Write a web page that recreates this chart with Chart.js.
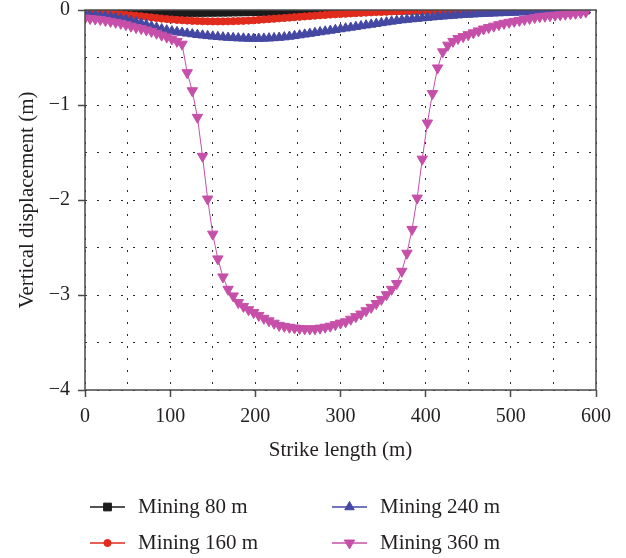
<!DOCTYPE html>
<html>
<head>
<meta charset="utf-8">
<title>Vertical displacement along strike</title>
<script src="https://cdn.jsdelivr.net/npm/chart.js@4.4.1/dist/chart.umd.min.js"></script>
<style>
  html, body { margin: 0; padding: 0; background: #fff; }
  #wrap { width: 626px; height: 558px; }
</style>
</head>
<body>
<div id="wrap"><canvas id="subsidence-chart" width="626" height="558"></canvas></div>
<script>
// Strike positions (m), shared by all four mining stages
const strikeX = [
  0, 6, 12, 18, 24, 30, 36, 42, 48, 54,
  60, 66, 72, 78, 84, 90, 96, 102, 108, 114,
  120, 126, 132, 138, 144, 150, 156, 162, 168, 174,
  180, 186, 192, 198, 204, 210, 216, 222, 228, 234,
  240, 246, 252, 258, 264, 270, 276, 282, 288, 294,
  300, 306, 312, 318, 324, 330, 336, 342, 348, 354,
  360, 366, 372, 378, 384, 390, 396, 402, 408, 414,
  420, 426, 432, 438, 444, 450, 456, 462, 468, 474,
  480, 486, 492, 498, 504, 510, 516, 522, 528, 534,
  540, 546, 552, 558, 564, 570, 576, 582, 588
];

// Vertical displacement (m) after each mining advance
const mining80 = [
  -0.008, -0.009, -0.010, -0.011, -0.012, -0.013, -0.014, -0.015, -0.016, -0.017,
  -0.018, -0.019, -0.020, -0.021, -0.022, -0.023, -0.023, -0.024, -0.024, -0.025,
  -0.025, -0.025, -0.025, -0.025, -0.024, -0.024, -0.023, -0.023, -0.022, -0.021,
  -0.020, -0.019, -0.018, -0.017, -0.016, -0.015, -0.014, -0.013, -0.012, -0.011,
  -0.010, -0.009, -0.008, -0.007, -0.006, -0.005, -0.005, -0.004, -0.004, -0.003,
  -0.003, -0.002, -0.002, -0.001, -0.001, 0, 0, 0, 0, 0,
  0, 0, 0, 0, 0, 0, 0, 0, 0, 0,
  0, 0, 0, 0, 0, 0, 0, 0, 0, 0,
  0, 0, 0, 0, 0, 0, 0, 0, 0, 0,
  0, 0, 0, 0, 0, 0, 0, 0, 0
];

const mining160 = [
  -0.020, -0.022, -0.025, -0.028, -0.032, -0.036, -0.040, -0.045, -0.050, -0.055,
  -0.060, -0.066, -0.072, -0.078, -0.084, -0.090, -0.095, -0.100, -0.104, -0.108,
  -0.111, -0.114, -0.116, -0.118, -0.119, -0.120, -0.120, -0.120, -0.119, -0.118,
  -0.116, -0.114, -0.111, -0.108, -0.104, -0.100, -0.096, -0.092, -0.088, -0.084,
  -0.080, -0.076, -0.072, -0.068, -0.064, -0.060, -0.056, -0.052, -0.048, -0.045,
  -0.042, -0.039, -0.036, -0.033, -0.030, -0.027, -0.025, -0.022, -0.020, -0.018,
  -0.016, -0.014, -0.012, -0.010, -0.009, -0.008, -0.007, -0.006, -0.005, -0.004,
  -0.003, -0.003, -0.002, -0.002, -0.001, -0.001, 0, 0, 0, 0,
  0, 0, 0, 0, 0, 0, 0, 0, 0, 0,
  0, 0, 0, 0, 0, 0, 0, 0, 0
];

const mining240 = [
  -0.045, -0.050, -0.055, -0.060, -0.066, -0.073, -0.080, -0.090, -0.100, -0.113,
  -0.127, -0.140, -0.155, -0.170, -0.185, -0.200, -0.212, -0.222, -0.230, -0.238,
  -0.246, -0.253, -0.260, -0.266, -0.272, -0.277, -0.282, -0.286, -0.290, -0.293,
  -0.296, -0.298, -0.300, -0.300, -0.300, -0.299, -0.297, -0.294, -0.290, -0.285,
  -0.279, -0.272, -0.264, -0.256, -0.248, -0.240, -0.232, -0.224, -0.216, -0.208,
  -0.200, -0.192, -0.184, -0.176, -0.168, -0.160, -0.152, -0.144, -0.136, -0.128,
  -0.120, -0.112, -0.106, -0.100, -0.095, -0.090, -0.085, -0.080, -0.075, -0.070,
  -0.066, -0.062, -0.058, -0.054, -0.050, -0.047, -0.044, -0.041, -0.038, -0.036,
  -0.034, -0.032, -0.030, -0.028, -0.026, -0.024, -0.021, -0.019, -0.017, -0.015,
  -0.013, -0.011, -0.009, -0.008, -0.006, -0.005, -0.004, -0.003, -0.002
];

const mining360 = [
  -0.085, -0.090, -0.095, -0.100, -0.110, -0.120, -0.130, -0.140, -0.155, -0.170,
  -0.185, -0.195, -0.210, -0.225, -0.245, -0.265, -0.285, -0.305, -0.330, -0.360,
  -0.660, -0.850, -1.130, -1.540, -1.990, -2.360, -2.620, -2.810, -2.940, -3.010,
  -3.080, -3.120, -3.155, -3.185, -3.215, -3.245, -3.272, -3.297, -3.320, -3.330,
  -3.340, -3.347, -3.352, -3.356, -3.358, -3.356, -3.349, -3.339, -3.328, -3.312,
  -3.296, -3.282, -3.255, -3.228, -3.200, -3.166, -3.130, -3.090, -3.046, -2.997,
  -2.940, -2.880, -2.750, -2.560, -2.310, -1.980, -1.570, -1.190, -0.880, -0.610,
  -0.440, -0.370, -0.330, -0.300, -0.280, -0.260, -0.240, -0.220, -0.200, -0.185,
  -0.170, -0.155, -0.140, -0.130, -0.120, -0.110, -0.100, -0.090, -0.080, -0.070,
  -0.065, -0.060, -0.055, -0.050, -0.045, -0.040, -0.035, -0.030, -0.020
];

const seriesLabels = ['Mining 80 m', 'Mining 160 m', 'Mining 240 m', 'Mining 360 m'];
const seriesValues = [mining80, mining160, mining240, mining360];

// Marker look for each series
const seriesColors = ['#1b1b1b', '#e02b1d', '#4548a2', '#c64fa9'];
const markerStyles = ['rect', 'circle', 'triangle', 'triangle'];
const markerRotation = [0, 0, 0, 180];
const markerRadius = [5.5, 3.6, 5.5, 6];

const FONT = '"Liberation Serif", "Times New Roman", serif';
const TEXT = '#231f20';
const FRAME = '#4a4a4a';

Chart.defaults.font.family = FONT;
Chart.defaults.color = TEXT;

function toPoints(values) {
  return strikeX.map((x, i) => ({ x: x, y: values[i] }));
}

// Later mining stages are painted over the earlier ones
const datasets = seriesLabels.map((label, i) => ({
  label: label,
  data: toPoints(seriesValues[i]),
  borderColor: seriesColors[i],
  backgroundColor: seriesColors[i],
  borderWidth: 1,
  pointStyle: markerStyles[i],
  rotation: markerRotation[i],
  pointRadius: markerRadius[i],
  pointBorderWidth: 1,
  pointHoverRadius: markerRadius[i],
  tension: 0,
  clip: 0,
  order: seriesLabels.length - i
}));

// Box around the plot area
const framePlugin = {
  id: 'frame',
  afterDatasetsDraw(chart) {
    const { ctx, chartArea: a } = chart;
    ctx.save();
    ctx.strokeStyle = FRAME;
    ctx.lineWidth = 1.5;
    ctx.strokeRect(a.left, a.top, a.right - a.left, a.bottom - a.top);
    ctx.restore();
  }
};

// Two-column legend with a line through each marker
const legendPlugin = {
  id: 'lineLegend',
  afterDraw(chart) {
    const ctx = chart.ctx;
    const colX = [90, 332];
    const rowY = [507, 543];
    const lineLen = 35;
    ctx.save();
    chart.data.datasets.forEach((ds, i) => {
      const x = colX[Math.floor(i / 2)];
      const y = rowY[i % 2];
      ctx.strokeStyle = ds.borderColor;
      ctx.fillStyle = ds.backgroundColor;
      ctx.lineWidth = 1.5;
      ctx.beginPath();
      ctx.moveTo(x, y);
      ctx.lineTo(x + lineLen, y);
      ctx.stroke();
      ctx.lineWidth = 1;
      Chart.helpers.drawPoint(ctx, {
        pointStyle: ds.pointStyle,
        rotation: ds.rotation,
        radius: ds.pointRadius,
        borderWidth: 1
      }, x + lineLen / 2, y);
      ctx.fillStyle = TEXT;
      ctx.font = '21px ' + FONT;
      ctx.textBaseline = 'middle';
      ctx.textAlign = 'left';
      ctx.fillText(ds.label, x + lineLen + 13, y);
    });
    ctx.restore();
  }
};

const ctx = document.getElementById('subsidence-chart').getContext('2d');

new Chart(ctx, {
  type: 'line',
  data: { datasets: datasets },
  plugins: [framePlugin, legendPlugin],
  options: {
    responsive: false,
    animation: false,
    layout: {
      padding: { top: 10, right: 30, bottom: 95, left: 0 }
    },
    plugins: {
      legend: { display: false },
      tooltip: { enabled: false }
    },
    scales: {
      x: {
        type: 'linear',
        min: 0,
        max: 600,
        afterFit: scale => { scale.height = 73; },
        ticks: {
          stepSize: 50,
          autoSkip: false,
          maxRotation: 0,
          padding: 8,
          font: { size: 20 },
          color: TEXT,
          callback: v => (v % 100 === 0 ? String(v) : '')
        },
        grid: {
          color: '#2a2a2a',
          lineWidth: 1,
          tickLength: 7,
          tickWidth: 1.5,
          tickColor: c => (c.tick && c.tick.value % 100 === 0 ? FRAME : 'rgba(0,0,0,0)')
        },
        border: { display: false, dash: [2, 10] },
        title: {
          display: true,
          text: 'Strike length (m)',
          font: { size: 21 },
          color: TEXT,
          padding: { top: 0, bottom: 0 }
        }
      },
      y: {
        min: -4,
        max: 0,
        // the plot box starts right at the top label, no extra margin above it
        afterFit: scale => {
          scale.width = 85;
          scale.paddingTop = 0;
          scale.paddingBottom = 0;
        },
        ticks: {
          stepSize: 0.5,
          padding: 8,
          font: { size: 20, lineHeight: 1 },
          color: TEXT,
          callback: v => (Number.isInteger(v) ? (v < 0 ? '\u2212' + Math.abs(v) : '0') : '')
        },
        grid: {
          color: '#2a2a2a',
          lineWidth: 1,
          tickLength: 7,
          tickWidth: 1.5,
          tickColor: c => (c.tick && Number.isInteger(c.tick.value) ? FRAME : 'rgba(0,0,0,0)')
        },
        border: { display: false, dash: [2, 10] },
        title: {
          display: true,
          text: 'Vertical displacement (m)',
          font: { size: 21 },
          color: TEXT,
          padding: { top: 15, bottom: 0 }
        }
      }
    }
  }
});
</script>
</body>
</html>
